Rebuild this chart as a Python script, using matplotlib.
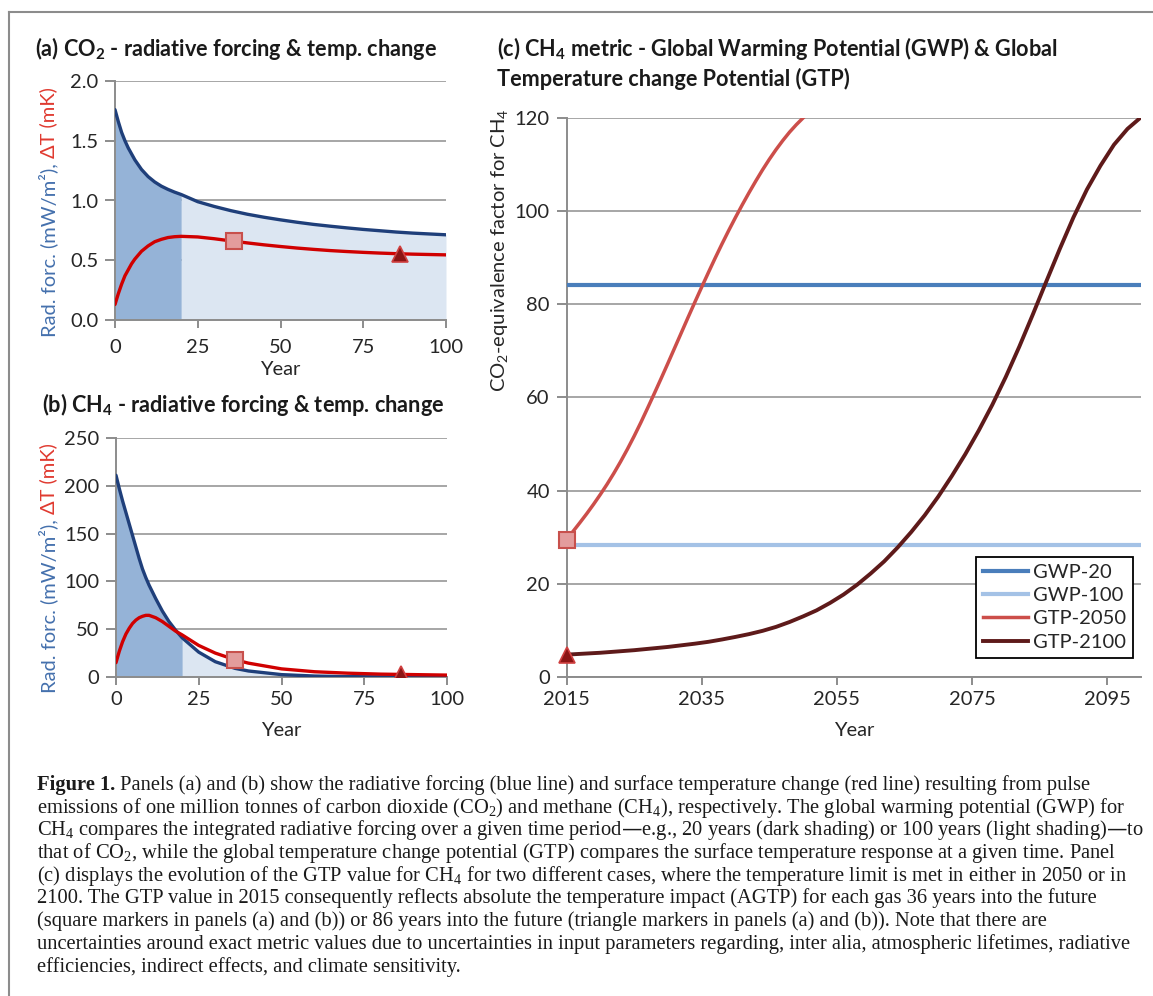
import numpy as np
import matplotlib
matplotlib.use('Agg')
import matplotlib.pyplot as plt
from matplotlib.lines import Line2D
from matplotlib.ticker import FormatStrFormatter

# ---------------- data ----------------
# Panel (a): CO2 pulse
years_a = [0, 1, 2, 3, 4, 5, 6, 8, 10, 12, 14, 16, 18, 20, 25, 30, 35, 40, 45, 50, 55, 60, 65, 70,
           75, 80, 85, 90, 95, 100]
rf_co2 = [1.76, 1.66, 1.57, 1.50, 1.44, 1.39, 1.34, 1.26, 1.20, 1.155, 1.12, 1.093, 1.07, 1.05,
          0.99, 0.95, 0.915, 0.885, 0.86, 0.838, 0.818, 0.80, 0.785, 0.771, 0.758, 0.747, 0.736,
          0.727, 0.72, 0.713]
dt_co2 = [0.13, 0.22, 0.30, 0.37, 0.42, 0.47, 0.51, 0.575, 0.62, 0.655, 0.675, 0.69, 0.697, 0.70,
          0.695, 0.68, 0.662, 0.645, 0.629, 0.615, 0.602, 0.591, 0.581, 0.573, 0.566, 0.56, 0.555,
          0.551, 0.548, 0.545]

# Panel (b): CH4 pulse
years_b = [0, 1, 2, 3, 4, 5, 6, 7, 8, 9, 10, 12, 14, 16, 18, 20, 25, 30, 36, 40, 50, 60, 70, 80, 90, 100]
rf_ch4 = [211, 197, 184, 172, 160, 148, 136, 124, 113, 104, 96, 82, 69, 58, 49, 41, 26, 16, 9.0, 6.3,
          2.5, 1.0, 0.4, 0.2, 0.1, 0.05]
dt_ch4 = [15, 27, 37, 45, 51, 56, 59.5, 62, 63.5, 64.5, 64.5, 62, 58, 53, 48, 44, 33, 25, 18, 14.5,
          8.5, 5.5, 4.0, 3.0, 2.5, 2.0]

# markers: AGTP 36 and 86 years ahead
sq_year, tri_year = 36, 86
sq_a, tri_a = 0.657, 0.553
sq_b, tri_b = 18, 2.7
gwp20_end = 20

# Panel (c): CH4 metric values
years_c = [2015, 2100]
gwp20 = [84, 84]
gwp100 = [28.3, 28.3]
years_g50 = list(range(2015, 2051))
gtp2050 = [29.5, 31.3, 33.15, 35.05, 37.05, 39.15, 41.35, 43.7, 46.2, 48.85, 51.65, 54.6, 57.7,
           60.85, 64.05, 67.3, 70.6, 73.9, 77.2, 80.45, 83.65, 86.8, 89.9, 92.9, 95.8, 98.6,
           101.3, 103.9, 106.4, 108.8, 111.05, 113.15, 115.1, 116.9, 118.5, 119.95]
years_g100 = [2015, 2020, 2025, 2030, 2032, 2034, 2036, 2038, 2040, 2042, 2044, 2046, 2048, 2050,
              2052, 2054, 2056, 2058, 2060, 2062, 2064, 2066, 2068, 2070, 2072, 2074, 2076, 2078,
              2080, 2082, 2084, 2086, 2088, 2090, 2092, 2094, 2096, 2098, 2100]
gtp2100 = [4.8, 5.2, 5.75, 6.45, 6.8, 7.15, 7.55, 8.05, 8.6, 9.2, 9.9, 10.75, 11.8, 13.0,
           14.3, 15.9, 17.7, 19.8, 22.2, 24.8, 27.8, 31.1, 34.7, 38.7, 43.1, 47.8, 52.9, 58.4,
           64.4, 70.9, 77.8, 84.9, 91.9, 98.6, 104.6, 109.7, 114.2, 117.6, 120.1]
c_labels = ['GWP-20', 'GWP-100', 'GTP-2050', 'GTP-2100']

caption_lines = [
    " Panels (a) and (b) show the radiative forcing (blue line) and surface temperature change (red line) resulting from pulse",
    r"emissions of one million tonnes of carbon dioxide (CO$_\mathdefault{2}$) and methane (CH$_\mathdefault{4}$), respectively. The global warming potential (GWP) for",
    r"CH$_\mathdefault{4}$ compares the integrated radiative forcing over a given time period—e.g., 20 years (dark shading) or 100 years (light shading)—to",
    r"that of CO$_\mathdefault{2}$, while the global temperature change potential (GTP) compares the surface temperature response at a given time. Panel",
    r"(c) displays the evolution of the GTP value for CH$_\mathdefault{4}$ for two different cases, where the temperature limit is met in either in 2050 or in",
    "2100. The GTP value in 2015 consequently reflects absolute the temperature impact (AGTP) for each gas 36 years into the future",
    "(square markers in panels (a) and (b)) or 86 years into the future (triangle markers in panels (a) and (b)). Note that there are",
    "uncertainties around exact metric values due to uncertainties in input parameters regarding, inter alia, atmospheric lifetimes, radiative",
    "efficiencies, indirect effects, and climate sensitivity.",
]

# ---------------- style ----------------
plt.rcParams['font.family'] = ['Lato', 'DejaVu Sans']
W, H = 1153, 996
fig = plt.figure(figsize=(W / 100, H / 100), dpi=100)


def fx(x):
    return x / W


def fy(y):
    return 1 - y / H


def axrect(l, t, r, b):
    return [fx(l), fy(b), (r - l) / W, (b - t) / H]


TXT = '#262626'
GRID = '#a6a6a6'
SPINE = '#8c8c8c'
BLUE = '#1f3f7a'
RED = '#d00000'
DARKFILL = '#95b3d7'
LIGHTFILL = '#dce6f2'
LBL_BLUE = '#4470ad'
LBL_RED = '#e03a30'
FS = 14.5
TFS = 15.6


def style(ax, xlim, ylim, xt, yt, xpad, labpad):
    ax.set_xlim(*xlim)
    ax.set_ylim(*ylim)
    ax.set_xticks(xt)
    ax.set_yticks(yt)
    ax.grid(axis='y', color=GRID, lw=1.4)
    ax.grid(axis='x', visible=False)
    ax.set_axisbelow(True)
    for s in ['top', 'right']:
        ax.spines[s].set_visible(False)
    for s in ['left', 'bottom']:
        ax.spines[s].set_color(SPINE)
        ax.spines[s].set_linewidth(1.4)
    ax.tick_params(axis='both', colors=SPINE, labelcolor=TXT, labelsize=FS, width=1.4)
    ax.tick_params(axis='y', length=7, pad=5)
    ax.tick_params(axis='x', length=6, pad=xpad)
    ax.set_xlabel('Year', fontsize=FS, color=TXT, labelpad=labpad)


def pulse_panel(ax, yrs, rf, dt, sqv, triv):
    yrs = np.asarray(yrs, float)
    rf = np.asarray(rf, float)
    m1 = yrs <= gwp20_end
    m2 = yrs >= gwp20_end
    ax.fill_between(yrs[m2], 0, rf[m2], color=LIGHTFILL, lw=0, zorder=1)
    ax.fill_between(yrs[m1], 0, rf[m1], color=DARKFILL, lw=0, zorder=1.1)
    ax.plot(yrs, rf, color=BLUE, lw=2.4, zorder=3, solid_capstyle='round')
    ax.plot(yrs, dt, color=RED, lw=2.4, zorder=4, solid_capstyle='round')
    ax.plot([sq_year], [sqv], marker='s', ms=11, mfc='#e39c9c', mec='#c8504c', mew=1.5, zorder=5, ls='none')
    ax.plot([tri_year], [triv], marker='^', ms=11, mfc='#8c1414', mec='#d04040', mew=1.2, zorder=5, ls='none')


def two_color_ylabel(ax, xc, ybottom):
    t1 = fig.text(fx(xc), fy(ybottom), 'Rad. forc. (mW/m²),', rotation=90, ha='center', va='bottom',
                  color=LBL_BLUE, fontsize=FS)
    ax.annotate('ΔT (mK)', xy=(0.5, 1), xycoords=t1, xytext=(0, 5),
                textcoords='offset pixels', rotation=90, ha='center', va='bottom',
                color=LBL_RED, fontsize=FS, annotation_clip=False)


# ---- panel (a)
ax_a = fig.add_axes(axrect(115, 81, 446, 320))
style(ax_a, (0, 100), (0, 2.0), [0, 25, 50, 75, 100], [0, 0.5, 1.0, 1.5, 2.0], 7.5, 4)
ax_a.yaxis.set_major_formatter(FormatStrFormatter('%.1f'))
pulse_panel(ax_a, years_a, rf_co2, dt_co2, sq_a, tri_a)
fig.text(fx(35), fy(48), r'(a) CO$_\mathdefault{2}$ - radiative forcing & temp. change',
         fontsize=TFS, weight='bold', color='#1a1a1a', va='center', ha='left')
two_color_ylabel(ax_a, 48, 337)

# ---- panel (b)
ax_b = fig.add_axes(axrect(116, 438, 447, 677))
style(ax_b, (0, 100), (0, 250), [0, 25, 50, 75, 100], [0, 50, 100, 150, 200, 250], 4, 10)
pulse_panel(ax_b, years_b, rf_ch4, dt_ch4, sq_b, tri_b)
fig.text(fx(42), fy(405), r'(b) CH$_\mathdefault{4}$ - radiative forcing & temp. change',
         fontsize=TFS, weight='bold', color='#1a1a1a', va='center', ha='left')
two_color_ylabel(ax_b, 48, 693)

# ---- panel (c)
ax_c = fig.add_axes(axrect(566.5, 117.7, 1141, 677))
style(ax_c, (2015, 2100), (0, 120), [2015, 2035, 2055, 2075, 2095], [0, 20, 40, 60, 80, 100, 120], 4, 10)
ax_c.plot(years_c, gwp20, color='#4a7ebb', lw=3, label=c_labels[0], zorder=3)
ax_c.plot(years_c, gwp100, color='#a4c2e6', lw=3, label=c_labels[1], zorder=3)
ax_c.plot(years_g50, gtp2050, color='#cc4e4a', lw=2.5, label=c_labels[2], zorder=4)
ax_c.plot(years_g100, gtp2100, color='#5e1a1a', lw=2.8, label=c_labels[3], zorder=4)
ax_c.plot([years_g50[0]], [gtp2050[0]], marker='s', ms=11, mfc='#e39c9c', mec='#c8504c', mew=1.5,
          ls='none', zorder=6, clip_on=False)
ax_c.plot([years_g100[0]], [gtp2100[0]], marker='^', ms=11, mfc='#8c1414', mec='#d04040', mew=1.2,
          ls='none', zorder=6, clip_on=False)
handles, labels = ax_c.get_legend_handles_labels()
leg = ax_c.legend(handles[:4], labels[:4], loc='upper right', bbox_to_anchor=(fx(1133), fy(557)),
                  bbox_transform=fig.transFigure, borderaxespad=0, fontsize=FS, frameon=True,
                  fancybox=False, framealpha=1, edgecolor='black', handlelength=2.2,
                  handletextpad=0.25, labelspacing=0.3, borderpad=0.35)
leg.get_frame().set_linewidth(1.3)
for t in leg.get_texts():
    t.set_color(TXT)
fig.text(fx(500), fy(250), r'CO$_\mathdefault{2}$-equivalence factor for CH$_\mathdefault{4}$',
         fontsize=FS, color=TXT, rotation=90, ha='center', va='center')
fig.text(fx(497), fy(48), r'(c) CH$_\mathdefault{4}$ metric - Global Warming Potential (GWP) & Global',
         fontsize=TFS, weight='bold', color='#1a1a1a', va='center', ha='left')
fig.text(fx(497), fy(79), 'Temperature change Potential (GTP)',
         fontsize=TFS, weight='bold', color='#1a1a1a', va='center', ha='left')

# ---- frame
fig.add_artist(Line2D([fx(9), fx(9)], [fy(12), 0], transform=fig.transFigure, color='#8c8c8c', lw=1.5))
fig.add_artist(Line2D([fx(9), 1], [fy(12), fy(12)], transform=fig.transFigure, color='#8c8c8c', lw=1.5))

# ---- caption
CAPFS = 14.8
serif = ['Liberation Serif', 'DejaVu Serif']
base0, step = 790, 22.7
tb = fig.text(fx(37), fy(base0), 'Figure 1.', family=serif, weight='bold', fontsize=CAPFS,
              color='#1a1a1a', va='baseline', ha='left')
ax_c.annotate(caption_lines[0], xy=(1, 0), xycoords=tb, xytext=(0, 0), textcoords='offset pixels',
              family=serif, fontsize=CAPFS, color='#1a1a1a', va='bottom', ha='left', annotation_clip=False)
for i, line in enumerate(caption_lines[1:], start=1):
    fig.text(fx(37), fy(base0 + step * i), line, family=serif, fontsize=CAPFS, color='#1a1a1a',
             va='baseline', ha='left')

fig.savefig('out.png', dpi=100)
